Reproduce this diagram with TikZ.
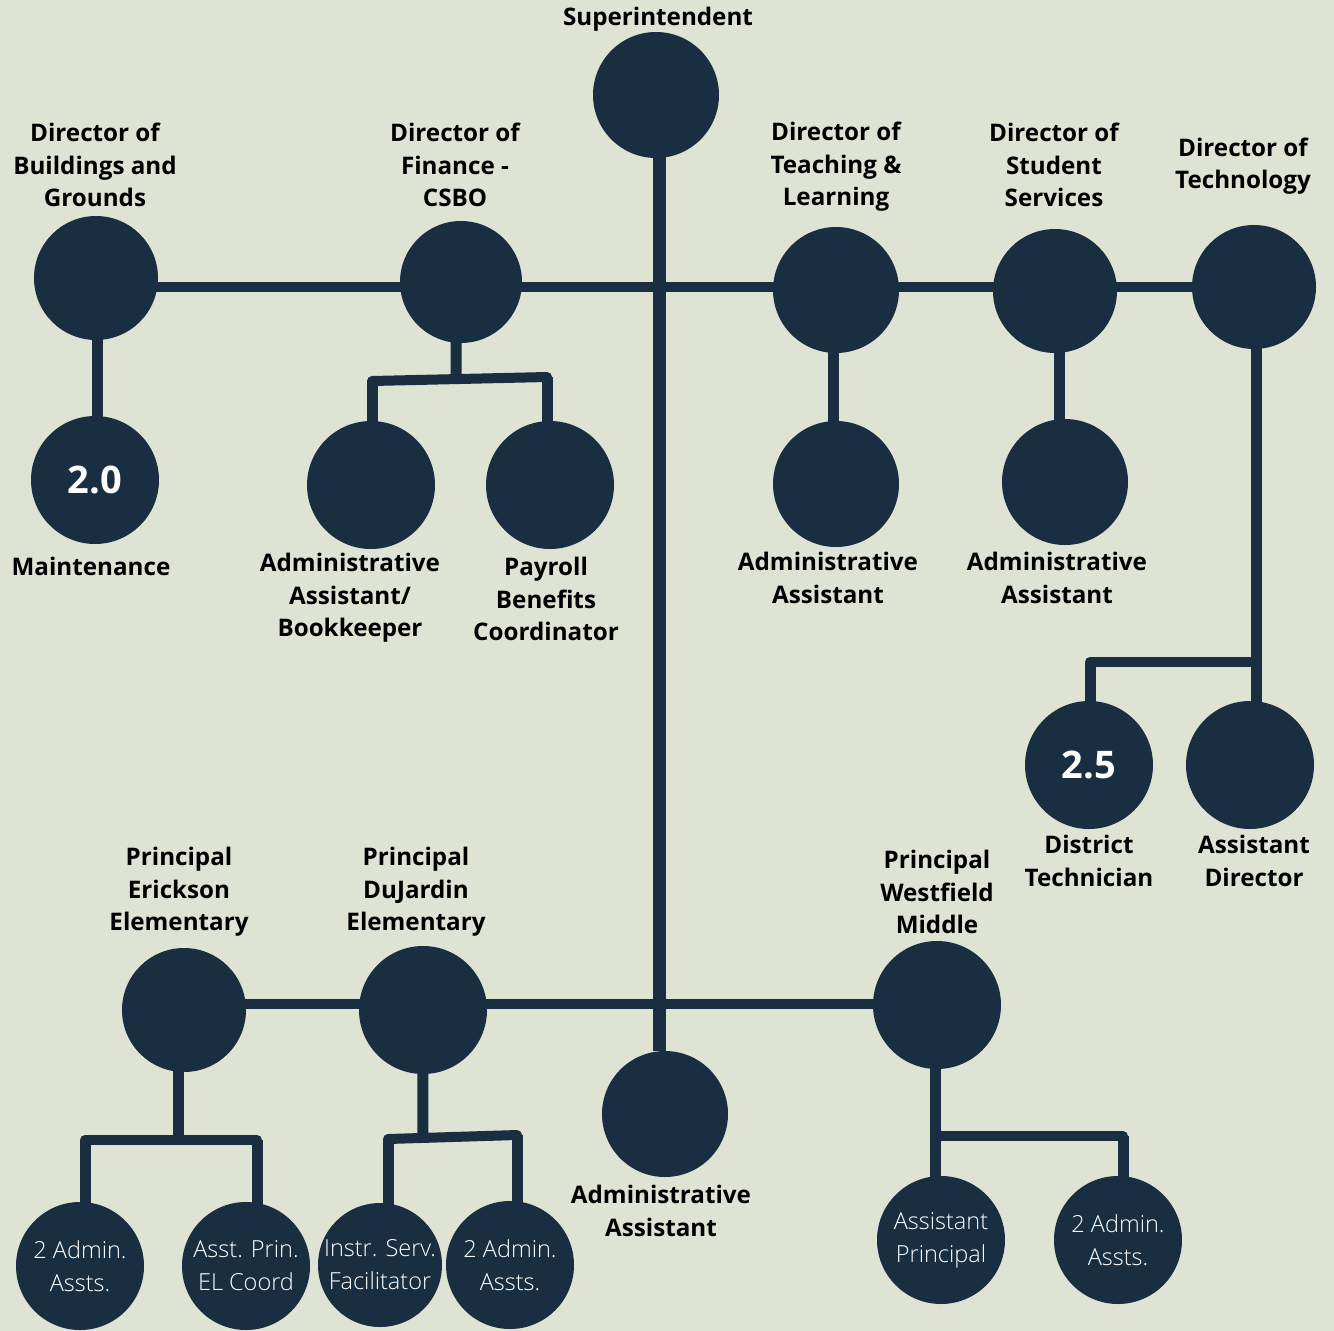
\documentclass[tikz,border=0pt]{standalone}
\usepackage{fontspec}
\setmainfont{Open Sans}
\newfontfamily\lightfont{Open Sans Light}
\usetikzlibrary{calc}
\definecolor{bgc}{HTML}{DFE3D4}
\definecolor{navy}{HTML}{1A2E42}
\pgfdeclarelayer{back}
\pgfdeclarelayer{bg}
\pgfsetlayers{back,bg,main}
\tikzset{
  circ/.style={circle,fill=navy,inner sep=0pt,minimum size=#1},
  circ/.default=126pt,
  lbl/.style={align=center,inner sep=0pt,text=black,font=\bfseries\fontsize{24.2}{32.5}\selectfont},
  intxt/.style={align=center,text=white,font=\lightfont\fontsize{23.5}{33}\selectfont},
  numtxt/.style={text=white,font=\bfseries\fontsize{38}{40}\selectfont},
  conn/.style={draw=navy,line width=11pt},
  bar/.style={draw=navy,line width=10pt,line cap=round},
  mainconn/.style={draw=navy,line width=13pt}
}
\begin{document}
\begin{tikzpicture}[x=1pt,y=-1pt]
\begin{pgfonlayer}{back}
\fill[bgc] (0,0) rectangle (1334,1331);
\end{pgfonlayer}
\useasboundingbox (0,0) rectangle (1334,1331);

% top level
\node[circ] (sup) at (656,95) {};
\node[lbl] (supL) at (658,19) {Superintendent};

% directors
\node[circ=124pt] (bld) at (96,278) {};
\node[lbl] (bldL) at (95,165) {Director of\\Buildings and\\Grounds};
\node[circ=122pt] (fin) at (461,282) {};
\node[lbl] (finL) at (455,165) {Director of\\Finance -\\CSBO};
\node[circ] (tea) at (836,290) {};
\node[lbl] (teaL) at (836,167) {Director of\\Teaching \&\\Learning};
\node[circ=124pt] (stu) at (1055,291) {};
\node[lbl] (stuL) at (1054,165) {Director of\\Student\\Services};
\node[circ=124pt] (tec) at (1254,287) {};
\node[lbl] (tecL) at (1243,166) {Director of\\Technology};

% second level under directors
\node[circ=128pt,numtxt] (mnt) at (95,480) {2.0};
\node[lbl] (mntL) at (91,566) {Maintenance};
\node[circ=128pt] (aab) at (371,485) {};
\node[lbl] (aabL) at (350,598) {Administrative\\Assistant/\\Bookkeeper};
\node[circ=128pt] (pay) at (550,485) {};
\node[lbl] (payL) at (546,599) {Payroll\\Benefits\\Coordinator};
\node[circ] (teaA) at (836,484) {};
\node[lbl] (teaAL) at (828,578) {Administrative\\Assistant};
\node[circ] (stuA) at (1065,482) {};
\node[lbl] (stuAL) at (1057,578) {Administrative\\Assistant};
\node[circ=128pt,numtxt] (dtec) at (1089,765) {2.5};
\node[lbl] (dtecL) at (1089,861) {District\\Technician};
\node[circ=128pt] (adir) at (1250,765) {};
\node[lbl] (adirL) at (1254,861) {Assistant\\Director};

% principals
\node[circ=124pt] (eri) at (184,1010) {};
\node[lbl] (eriL) at (179,892) {Principal\\Erickson\\Elementary};
\node[circ=128pt] (duj) at (423,1010) {};
\node[lbl] (dujL) at (416,892) {Principal\\DuJardin\\Elementary};
\node[circ=128pt] (wes) at (937,1005) {};
\node[lbl] (wesL) at (937,892) {Principal\\Westfield\\Middle};
\node[circ] (supA) at (665,1114) {};
\node[lbl] (supAL) at (661,1211) {Administrative\\Assistant};

% school staff
\node[circ=128pt,intxt] (eri1) at (80,1266) {2 Admin.\\Assts.};
\node[circ=128pt,intxt] (eri2) at (246,1266) {Asst. Prin.\\EL Coord};
\node[circ=124pt,intxt] (duj1) at (380,1265) {Instr. Serv.\\Facilitator};
\node[circ=128pt,intxt] (duj2) at (510,1265) {2 Admin.\\Assts.};
\node[circ=128pt,intxt] (wes1) at (941,1240) {Assistant\\Principal};
\node[circ=128pt,intxt] (wes2) at (1118,1240) {2 Admin.\\Assts.};

% junction coordinates
\coordinate (spX) at (659,0);
\coordinate (topbar) at (0,287);
\coordinate (botbar) at (0,1004);
\coordinate (bldX) at (97,0);
\coordinate (finX) at (456,0);
\coordinate (finL1) at (372,381);
\coordinate (finR1) at (547,377);
\coordinate (teaX) at (833,0);
\coordinate (stuX) at (1059,0);
\coordinate (tecX) at (1256,0);
\coordinate (tecbar) at (0,662);
\coordinate (dtecX) at (1090,0);
\coordinate (eriX) at (178,0);
\coordinate (eribar) at (0,1140);
\coordinate (eri1X) at (85,0);
\coordinate (eri2X) at (257,0);
\coordinate (dujL1) at (388,1139);
\coordinate (dujR1) at (517,1135);
\coordinate (wesX) at (935,0);
\coordinate (wesbar) at (0,1136);
\coordinate (wes2X) at (1123,0);

\begin{pgfonlayer}{bg}
  % main spine
  \draw[mainconn] (sup -| spX) -- (supA.north -| spX);
  % top horizontal
  \draw[conn,line width=10pt] (bld.center |- topbar) -- (tec.center |- topbar);
  % bottom horizontal
  \draw[conn,line width=10pt] (eri.center |- botbar) -- (wes.center |- botbar);
  % buildings
  \draw[conn] (bld -| bldX) -- (mnt -| bldX);
  % finance
  \draw[conn] (fin -| finX) -- ($(finL1)!0.48!(finR1)$);
  \draw[bar] (finL1) -- (finR1);
  \draw[conn] (finL1) -- (aab -| finL1);
  \draw[conn] (finR1) -- (pay -| finR1);
  % teaching, student
  \draw[conn] (tea -| teaX) -- (teaA -| teaX);
  \draw[conn] (stu -| stuX) -- (stuA -| stuX);
  % technology
  \draw[conn] (tec -| tecX) -- (adir -| tecX);
  \draw[bar] (dtecX |- tecbar) -- (tecX |- tecbar);
  \draw[conn] (dtecX |- tecbar) -- (dtec -| dtecX);
  % erickson
  \draw[conn] (eri -| eriX) -- (eriX |- eribar);
  \draw[bar] (eri1X |- eribar) -- (eri2X |- eribar);
  \draw[conn] (eri1X |- eribar) -- (eri1 -| eri1X);
  \draw[conn] (eri2X |- eribar) -- (eri2 -| eri2X);
  % dujardin
  \draw[conn] (duj) -- ($(dujL1)!0.27!(dujR1)$);
  \draw[bar] (dujL1) -- (dujR1);
  \draw[conn] (dujL1) -- (duj1 -| dujL1);
  \draw[conn] (dujR1) -- (duj2 -| dujR1);
  % westfield
  \draw[conn] (wes -| wesX) -- (wes1 -| wesX);
  \draw[bar] (wesX |- wesbar) -- (wes2X |- wesbar);
  \draw[conn] (wes2X |- wesbar) -- (wes2 -| wes2X);
\end{pgfonlayer}
\end{tikzpicture}
\end{document}
